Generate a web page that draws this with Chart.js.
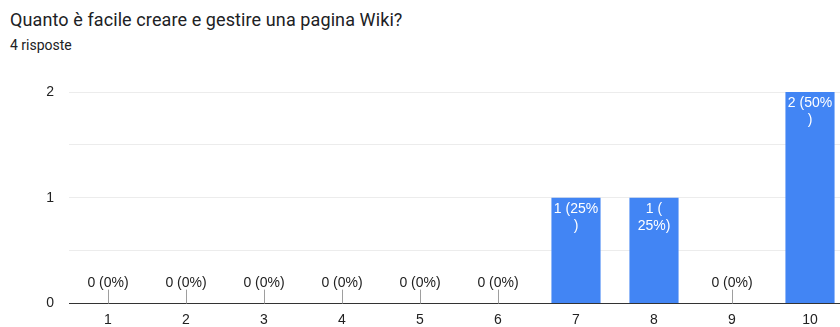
<!DOCTYPE html>
<html>
<head>
<meta charset="utf-8">
<script src="https://cdn.jsdelivr.net/npm/chart.js@4"></script>
<style>
  html, body { margin: 0; padding: 0; background: #fff; }
  body { width: 840px; height: 327px; overflow: hidden; position: relative; }
  #title { position: absolute; left: 10px; top: 9px; font: 18px Roboto, sans-serif; color: #202124; white-space: nowrap; letter-spacing: 0.1px; }
  #sub { position: absolute; left: 10px; top: 37px; font: 14px Roboto, sans-serif; color: #202124; }
  #wrap { position: absolute; left: 0; top: 0; width: 880px; height: 327px; }
</style>
</head>
<body>
<div id="title">Quanto è facile creare e gestire una pagina Wiki?</div>
<div id="sub">4 risposte</div>
<div id="wrap"><canvas id="chart"></canvas></div>
<script>
var categories = ['1', '2', '3', '4', '5', '6', '7', '8', '9', '10'];
var counts = [0, 0, 0, 0, 0, 0, 1, 1, 0, 2];
var totalAnswers = 4;
// where each bar label wraps onto a second line (0 = single line)
var labelBreaks = [0, 0, 0, 0, 0, 0, 6, 3, 0, 6];
var yTicks = [0, 1, 2];

var labelFont = '14px "Liberation Sans", Arial, sans-serif';

var barLabels = {
    id: 'barLabels',
    afterDatasetsDraw: function (c) {
        var ctx = c.ctx;
        var base = c.scales.y.getPixelForValue(0);
        var bars = c.getDatasetMeta(0).data;
        ctx.save();
        ctx.font = labelFont;
        ctx.textAlign = 'center';
        ctx.textBaseline = 'middle';
        bars.forEach(function (bar, i) {
            var v = counts[i];
            var text = v + ' (' + Math.round(v / totalAnswers * 100) + '%)';
            if (v === 0) {
                ctx.strokeStyle = '#9e9e9e';
                ctx.lineWidth = 1;
                ctx.beginPath();
                ctx.moveTo(Math.round(bar.x) + 0.5, base);
                ctx.lineTo(Math.round(bar.x) + 0.5, base - 14);
                ctx.stroke();
                ctx.fillStyle = '#222';
                ctx.fillText(text, bar.x, base - 20.5);
                return;
            }
            var lines = labelBreaks[i] ? [text.slice(0, labelBreaks[i]), text.slice(labelBreaks[i])] : [text];
            ctx.fillStyle = '#fff';
            lines.forEach(function (line, k) {
                ctx.fillText(line, bar.x, bar.y + 11.5 + k * 16.5);
            });
        });
        ctx.restore();
    }
};

new Chart(document.getElementById('chart').getContext('2d'), {
    type: 'bar',
    data: {
        labels: categories,
        datasets: [{
            data: counts,
            backgroundColor: '#4285f4',
            borderWidth: 0,
            categoryPercentage: 1,
            barPercentage: 0.63
        }]
    },
    options: {
        responsive: true,
        maintainAspectRatio: false,
        animation: false,
        events: [],
        layout: { padding: { top: 92, left: 0, right: 31, bottom: 0 } },
        plugins: { legend: { display: false }, tooltip: { enabled: false } },
        scales: {
            x: {
                grid: { display: false, drawTicks: false },
                border: { display: false },
                ticks: { color: '#222', font: { family: '"Liberation Sans", Arial, sans-serif', size: 14 }, padding: 8, maxRotation: 0 },
                afterFit: function (s) { s.height = 23; }
            },
            y: {
                min: 0,
                max: 2,
                border: { display: false },
                grid: {
                    drawTicks: false,
                    color: function (g) { return g.tick.value === 0 ? '#333' : '#ececec'; }
                },
                ticks: {
                    stepSize: 0.5,
                    autoSkip: false,
                    color: '#222',
                    font: { family: '"Liberation Sans", Arial, sans-serif', size: 14 },
                    padding: 15,
                    callback: function (v) { return yTicks.indexOf(v) >= 0 ? v : ''; }
                },
                afterFit: function (s) { s.width = 69; }
            }
        }
    },
    plugins: [barLabels]
});
</script>
</body>
</html>
